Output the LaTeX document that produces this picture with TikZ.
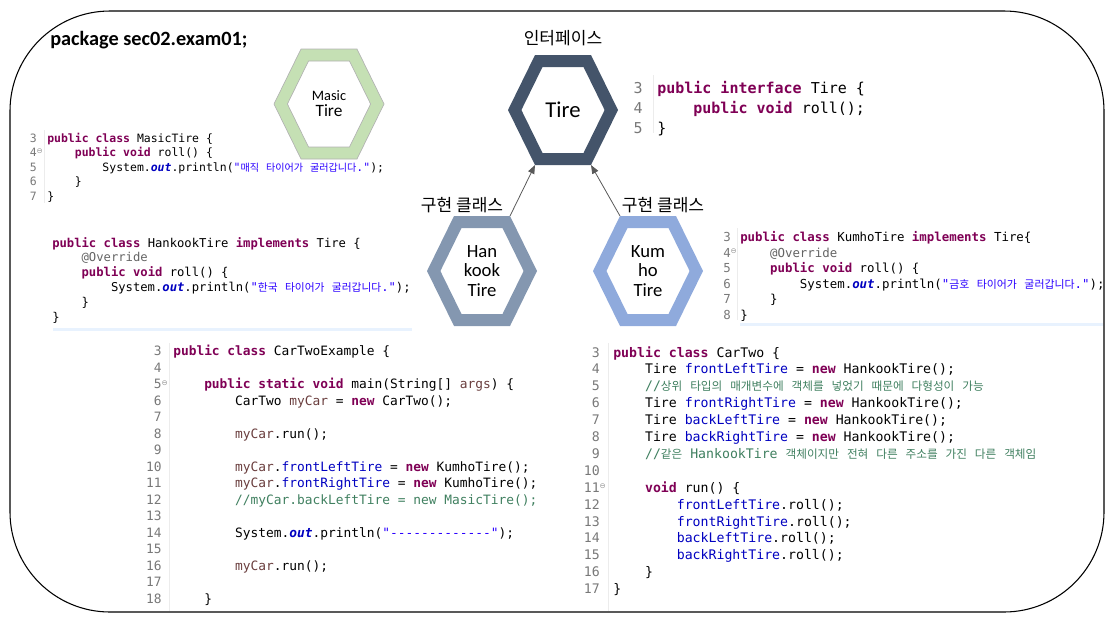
\documentclass[tikz,border=0pt]{standalone}
\usepackage{fontspec}
\setmainfont{Carlito}
\setmonofont{DejaVu Sans Mono}
\newfontfamily\kr{Noto Sans CJK KR}
\newfontfamily\krcode[Scale=0.88]{Noto Sans CJK KR}
\newfontfamily\symf{DejaVu Sans}
\usetikzlibrary{arrows.meta,calc,positioning}
\definecolor{tirenavy}{HTML}{44546A}
\definecolor{hankookgray}{HTML}{8497B0}
\definecolor{kumhoblue}{HTML}{8FAADC}
\definecolor{masicgreen}{HTML}{C5E0B4}
\definecolor{arrowgray}{HTML}{595959}
\definecolor{kwpurple}{HTML}{7F0055}
\definecolor{strblue}{HTML}{2A00FF}
\definecolor{fieldblue}{HTML}{0000C0}
\definecolor{cmtgreen}{HTML}{3F7F5F}
\definecolor{localbrown}{HTML}{6A3E3E}
\definecolor{anngray}{HTML}{646464}
\definecolor{linegray}{HTML}{787878}
\definecolor{curline}{HTML}{E8F2FE}
% java syntax colours
\newcommand{\jkw}[1]{\textcolor{kwpurple}{\bfseries #1}}
\newcommand{\jstr}[1]{\textcolor{strblue}{#1}}
\newcommand{\jfld}[1]{\textcolor{fieldblue}{#1}}
\newcommand{\jsfld}[1]{\textcolor{fieldblue}{\bfseries\itshape #1}}
\newcommand{\jcmt}[1]{\textcolor{cmtgreen}{#1}}
\newcommand{\jlv}[1]{\textcolor{localbrown}{#1}}
\newcommand{\jann}[1]{\textcolor{anngray}{#1}}
\newcommand{\jko}[1]{{\krcode #1}}
\newcommand{\fold}{\rlap{\raisebox{.45ex}{\textcolor{linegray!80}{\symf\fontsize{5.5}{6}\selectfont ⊖}}}}
% hexagon ring round a node
\newcommand{\tirehex}[2]{\fill[#2,even odd rule,shift={(#1.center)}]
  (-55,0)--(-28,-55)--(28,-55)--(55,0)--(28,55)--(-28,55)--cycle
  (-41.6,0)--(-20.5,-43)--(20.5,-43)--(41.6,0)--(20.5,43)--(-20.5,43)--cycle;}

\begin{document}
\begin{tikzpicture}[x=0.75pt,y=-0.75pt,
  javacode/.style={anchor=base west,inner sep=0pt,font=\ttfamily\fontsize{#1}{#1}\selectfont},
  gutter/.style={anchor=base east,inner sep=0pt,text=linegray,font=\ttfamily\fontsize{#1}{#1}\selectfont},
  hexlabel/.style={align=center,inner sep=0pt},
  krlabel/.style={font=\kr\fontsize{12.8}{15}\selectfont,inner sep=0pt},
  implarrow/.style={-{Triangle[length=6.5pt,width=5pt]},draw=arrowgray,line width=0.6pt}]
\useasboundingbox (0,0) rectangle (1117,622);
\draw[line width=0.8pt,rounded corners=75pt] (10,11) rectangle (1104,612);

\node[anchor=base west,inner sep=0pt,font=\bfseries\fontsize{15.2}{18}\selectfont] (pkg) at (50,45) {package sec02.exam01;};

% hexagons
\node[hexlabel,font=\fontsize{17}{20}\selectfont] (tire) at (563,110) {Tire};
\node[hexlabel] (masic) at (329,104) {{\fontsize{10.8}{12.5}\selectfont Masic}\\{\fontsize{13}{14}\selectfont Tire}};
\node[hexlabel,font=\fontsize{14}{14.6}\selectfont] (hankook) at (482,271) {Han\\kook\\Tire};
\node[hexlabel,font=\fontsize{14}{14.6}\selectfont] (kumho) at (648,271) {Kum\\ho\\Tire};
\tirehex{tire}{tirenavy}
\tirehex{masic}{masicgreen,draw=gray!60,line width=0.5pt}
\tirehex{hankook}{hankookgray}
\tirehex{kumho}{kumhoblue}

\node[krlabel] (iface) at (563,38) {인터페이스};
\node[krlabel] (implL) at (462,205) {구현 클래스};
\node[krlabel] (implR) at (663,205) {구현 클래스};

\coordinate (tire-bl) at ($(tire.center)+(-28,55)$);
\coordinate (tire-br) at ($(tire.center)+(28,55)$);
\coordinate (hankook-tr) at ($(hankook.center)+(28,-55)$);
\coordinate (kumho-tl) at ($(kumho.center)+(-28,-55)$);
\draw[implarrow] (hankook-tr) -- (tire-bl);
\draw[implarrow] (kumho-tl) -- (tire-br);

% gutters and current-line bars
\draw[gray!15] (44,130) -- (44,203) (653,75) -- (653,133) (737,228) -- (737,320)
  (169,343) -- (169,611) (608,343) -- (608,611);
\fill[curline] (53,327.5) rectangle (412,330.5);
\fill[curline] (740,322.5) rectangle (1103,325.5);

% Tire interface
\foreach \t [count=\n from 3] in {
  {\jkw{public} \jkw{interface} Tire \{},
  {~~~~\jkw{public} \jkw{void} roll();},
  {\}}}{
  \node[javacode=11.25] (tc-\n) at (657,{93+(\n-3)*20}) {\t};
  \node[gutter=11.25] at (643,{93+(\n-3)*20}) {\n};
}

% MasicTire
\foreach \t [count=\n from 3] in {
  {\jkw{public} \jkw{class} MasicTire \{},
  {~~~~\jkw{public} \jkw{void} roll() \{},
  {~~~~~~~~System.\jsfld{out}.println(\jstr{"\jko{매직}~\jko{타이어가}~\jko{굴러갑니다}."});},
  {~~~~\}},
  {\}}}{
  \node[javacode=8.6] (mc-\n) at (47,{142+(\n-3)*14.6}) {\t};
  \node[gutter=8.6] at (37,{142+(\n-3)*14.6}) {\n\ifnum\n=4 \fold\fi};
}

% HankookTire
\foreach \t [count=\n from 3] in {
  {\jkw{public} \jkw{class} HankookTire \jkw{implements} Tire \{},
  {~~~~\jann{@Override}},
  {~~~~\jkw{public} \jkw{void} roll() \{},
  {~~~~~~~~System.\jsfld{out}.println(\jstr{"\jko{한국}~\jko{타이어가}~\jko{굴러갑니다}."});},
  {~~~~\}},
  {\}}}{
  \node[javacode=9.15] (hc-\n) at (52,{247+(\n-3)*14.8}) {\t};
}

% KumhoTire
\foreach \t [count=\n from 3] in {
  {\jkw{public} \jkw{class} KumhoTire \jkw{implements} Tire\{},
  {~~~~\jann{@Override}},
  {~~~~\jkw{public} \jkw{void} roll() \{},
  {~~~~~~~~System.\jsfld{out}.println(\jstr{"\jko{금호}~\jko{타이어가}~\jko{굴러갑니다}."});},
  {~~~~\}},
  {\}}}{
  \node[javacode=9.3] (kc-\n) at (740,{241.5+(\n-3)*15.5}) {\t};
  \node[gutter=9.3] at (731,{241.5+(\n-3)*15.5}) {\n\ifnum\n=4 \fold\fi};
}

% CarTwoExample
\foreach \t [count=\n from 3] in {
  {\jkw{public} \jkw{class} CarTwoExample \{},
  {},
  {~~~~\jkw{public} \jkw{static} \jkw{void} main(String[] \jlv{args}) \{},
  {~~~~~~~~CarTwo \jlv{myCar} = \jkw{new} CarTwo();},
  {},
  {~~~~~~~~\jlv{myCar}.run();},
  {},
  {~~~~~~~~\jlv{myCar}.\jfld{frontLeftTire} = \jkw{new} KumhoTire();},
  {~~~~~~~~\jlv{myCar}.\jfld{frontRightTire} = \jkw{new} KumhoTire();},
  {~~~~~~~~\jcmt{//myCar.backLeftTire = new MasicTire();}},
  {},
  {~~~~~~~~System.\jsfld{out}.println(\jstr{"-------------"});},
  {},
  {~~~~~~~~\jlv{myCar}.run();},
  {},
  {~~~~\}}}{
  \node[javacode=9.65] (ec-\n) at (173,{355.5+(\n-3)*16.5}) {\t};
  \node[gutter=9.65] at (162,{355.5+(\n-3)*16.5}) {\n\ifnum\n=5 \fold\fi};
}

% CarTwo
\foreach \t [count=\n from 3] in {
  {\jkw{public} \jkw{class} CarTwo \{},
  {~~~~Tire \jfld{frontLeftTire} = \jkw{new} HankookTire();},
  {~~~~\jcmt{//\jko{상위}~\jko{타입의}~\jko{매개변수에}~\jko{객체를}~\jko{넣었기}~\jko{때문에}~\jko{다형성이}~\jko{가능}}},
  {~~~~Tire \jfld{frontRightTire} = \jkw{new} HankookTire();},
  {~~~~Tire \jfld{backLeftTire} = \jkw{new} HankookTire();},
  {~~~~Tire \jfld{backRightTire} = \jkw{new} HankookTire();},
  {~~~~\jcmt{//\jko{같은}~HankookTire~\jko{객체이지만}~\jko{전혀}~\jko{다른}~\jko{주소를}~\jko{가진}~\jko{다른}~\jko{객체임}}},
  {},
  {~~~~\jkw{void} run() \{},
  {~~~~~~~~\jfld{frontLeftTire}.roll();},
  {~~~~~~~~\jfld{frontRightTire}.roll();},
  {~~~~~~~~\jfld{backLeftTire}.roll();},
  {~~~~~~~~\jfld{backRightTire}.roll();},
  {~~~~\}},
  {\}}}{
  \node[javacode=9.9] (cc-\n) at (613,{357+(\n-3)*16.9}) {\t};
  \node[gutter=9.9] at (600,{357+(\n-3)*16.9}) {\n\ifnum\n=11 \fold\fi};
}
\end{tikzpicture}
\end{document}
